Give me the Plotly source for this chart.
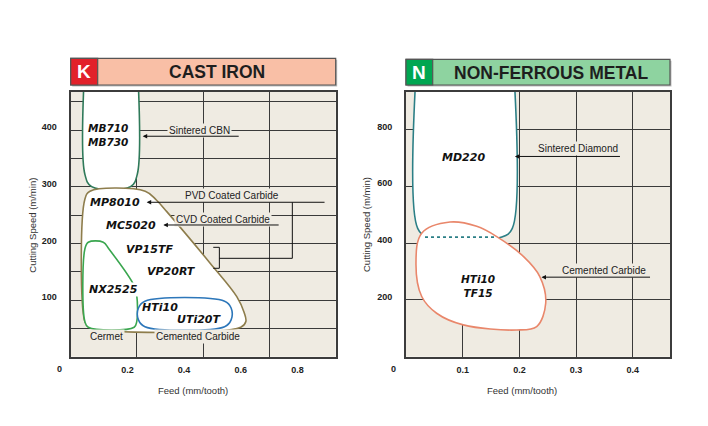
import plotly.graph_objects as go

# page body has an 8px default margin; the figure is drawn inside it
OFF = 8
W, H = 708 - OFF, 426 - OFF


def px(x):
    return (x - OFF) / W


def py(y):
    return 1 - (y - OFF) / H


# ---------------- data: left panel (K, cast iron) ----------------
K_X_RANGE = [0, 0.935]
K_Y_RANGE = [0, 467.6]
K_X_TICKS = [0.2, 0.4, 0.6, 0.8]
K_X_LABELS = ["0.2", "0.4", "0.6", "0.8"]
K_Y_TICKS = [100, 200, 300, 400]
K_Y_LABELS = ["100", "200", "300", "400"]
K_GRID_COLUMNS = 4

CBN_X = [0.05, 0.05, 0.074, 0.211, 0.235, 0.235]
CBN_Y = [520, 322, 300, 300, 322, 520]

CARBIDE_X = [0.05, 0.05, 0.068, 0.263, 0.303, 0.339, 0.492, 0.586, 0.612, 0.618, 0.600, 0.065, 0.05]
CARBIDE_Y = [62, 278, 292, 292, 276, 256, 165, 106, 78, 62, 52, 52, 62]

CERMET_X = [0.05, 0.05, 0.062, 0.115, 0.135, 0.222, 0.233, 0.233, 0.224, 0.062, 0.05]
CERMET_Y = [62, 190, 202, 202, 190, 127, 108, 62, 52, 52, 62]

HTI_X = [0.239, 0.239, 0.262, 0.543, 0.566, 0.566, 0.543, 0.262, 0.239]
HTI_Y = [65, 86, 98, 98, 86, 65, 53, 53, 65]

K_GRADES = ["MB710<br>MB730", "MP8010", "MC5020", "VP15TF", "VP20RT", "NX2525", "HTi10", "UTi20T"]
K_GRADE_X = [0.132, 0.156, 0.213, 0.277, 0.356, 0.150, 0.316, 0.456]
K_GRADE_Y = [390.5, 272, 232, 190, 150, 119, 87, 66]

K_LABELS = ["Sintered CBN", "PVD Coated Carbide", "CVD Coated Carbide", "Cermet", "Cemented Carbide"]
K_LABEL_X = [0.456, 0.568, 0.539, 0.127, 0.45]
K_LABEL_Y = [400, 284, 242.5, 36.5, 36.5]

K_ARROW_HEAD_X = [0.254, 0.268, 0.327]
K_ARROW_TAIL_X = [0.598, 0.901, 0.739]
K_ARROW_Y = [389, 272.5, 232.4]

PVD_LINK_X = [0.782, 0.782, 0.5245]
PVD_LINK_Y = [272.5, 173.6, 173.6]
BRACKET_X = [0.503, 0.5245, 0.5245, 0.503]
BRACKET_Y = [193, 193, 156, 156]

# ---------------- data: right panel (N, non-ferrous) ----------------
N_X_RANGE = [0, 0.4656]
N_Y_RANGE = [0, 933]
N_X_TICKS = [0.1, 0.2, 0.3, 0.4]
N_X_LABELS = ["0.1", "0.2", "0.3", "0.4"]
N_Y_TICKS = [200, 400, 600, 800]
N_Y_LABELS = ["200", "400", "600", "800"]

DIAMOND_X = [0.0206, 0.0206, 0.039, 0.169, 0.1875, 0.1875]
DIAMOND_Y = [1100, 452, 421, 421, 452, 1100]
DIAMOND_EDGE_X = [0.0335, 0.157]
DIAMOND_EDGE_Y = [421, 421]

BLOB_X = [0.101, 0.054, 0.0277, 0.0176, 0.0277, 0.0776, 0.1247, 0.160, 0.207, 0.236, 0.2464, 0.2305, 0.195, 0.101]
BLOB_Y = [112, 153, 212, 329, 435, 474, 459, 423, 353, 282, 188, 106, 94, 112]

N_GRADES = ["MD220", "HTi10<br>TF15"]
N_GRADE_X = [0.101, 0.1275]
N_GRADE_Y = [703, 250.5]

N_LABELS = ["Sintered Diamond", "Cemented Carbide"]
N_LABEL_X = [0.304, 0.349]
N_LABEL_Y = [733, 302]

N_ARROW_HEAD_X = [0.192, 0.239]
N_ARROW_TAIL_X = [0.380, 0.433]
N_ARROW_Y = [705, 280]

# ---------------- styling ----------------
PLOT_BG = "#efebe2"
GRID = "#3a3a3a"
FRAME = "#3c3c3c"
TICKFONT = dict(family="Liberation Sans, Arial", size=9, color="#222", weight="bold")

K_DOM_X = [px(70.7), px(335.7)]
N_DOM_X = [px(406), px(670)]
DOM_Y = [py(356.7), py(91.7)]

fig = go.Figure()


def region(x, y, color, xa, ya, width=1.6):
    fig.add_trace(go.Scatter(
        x=x, y=y, xaxis=xa, yaxis=ya, mode="lines", fill="toself",
        fillcolor="white", line=dict(color=color, width=width, shape="spline", smoothing=1.0),
        hoverinfo="skip", showlegend=False))


def plain_line(x, y, xa, ya, color="#111", width=1, dash="solid"):
    fig.add_trace(go.Scatter(
        x=x, y=y, xaxis=xa, yaxis=ya, mode="lines",
        line=dict(color=color, width=width, dash=dash),
        hoverinfo="skip", showlegend=False))


# left regions
region(CBN_X, CBN_Y, "#2f7a5a", "x", "y")
region(CARBIDE_X, CARBIDE_Y, "#8e7d4c", "x", "y")
region(CERMET_X, CERMET_Y, "#3aa64f", "x", "y")
region(HTI_X, HTI_Y, "#2d77ba", "x", "y")
plain_line(PVD_LINK_X, PVD_LINK_Y, "x", "y")
plain_line(BRACKET_X, BRACKET_Y, "x", "y")
# grid-only overlay axis for the left panel columns
fig.add_trace(go.Scatter(x=[0], y=[0], xaxis="x3", yaxis="y", mode="markers",
                         marker=dict(opacity=0), hoverinfo="skip", showlegend=False))

# right regions
region(DIAMOND_X, DIAMOND_Y, "#2b7f86", "x2", "y2")
region(BLOB_X, BLOB_Y, "#e9876b", "x2", "y2")
plain_line(DIAMOND_EDGE_X, DIAMOND_EDGE_Y, "x2", "y2", color="#2b7f86", width=1.6, dash="dot")

axis_common = dict(showline=True, mirror=True, linecolor=FRAME, linewidth=2,
                   zeroline=False, tickfont=TICKFONT, ticks="", fixedrange=True)

fig.update_layout(
    width=W, height=H, margin=dict(l=0, r=0, t=0, b=0),
    paper_bgcolor="white", plot_bgcolor=PLOT_BG, showlegend=False,
    xaxis=dict(domain=K_DOM_X, range=K_X_RANGE, anchor="y", tickvals=K_X_TICKS,
               ticktext=K_X_LABELS, showgrid=False, ticklabelstandoff=3, **axis_common),
    yaxis=dict(domain=DOM_Y, range=K_Y_RANGE, anchor="x", tickvals=K_Y_TICKS,
               ticktext=K_Y_LABELS, showgrid=True, gridcolor=GRID, gridwidth=1,
               minor=dict(dtick=50, tick0=0, showgrid=True, gridcolor=GRID, gridwidth=1),
               ticklabelstandoff=10, ticklabelshift=-3, **axis_common),
    xaxis3=dict(overlaying="x", range=[0, K_GRID_COLUMNS], dtick=1, showgrid=True,
                gridcolor=GRID, gridwidth=1, showticklabels=False, showline=False,
                zeroline=False, ticks="", anchor="y", fixedrange=True),
    xaxis2=dict(domain=N_DOM_X, range=N_X_RANGE, anchor="y2", tickvals=N_X_TICKS,
                ticktext=N_X_LABELS, showgrid=True, gridcolor=GRID, gridwidth=1,
                ticklabelstandoff=3, **axis_common),
    yaxis2=dict(domain=DOM_Y, range=N_Y_RANGE, anchor="x2", tickvals=N_Y_TICKS,
                ticktext=N_Y_LABELS, showgrid=True, gridcolor=GRID, gridwidth=1,
                ticklabelstandoff=10, ticklabelshift=-3, **axis_common),
)

ann = []
GRADE_FONT = dict(family="DejaVu Sans", size=11, color="#111")
PAIR_FONT = dict(family="DejaVu Sans", size=10.5, color="#111")
LABEL_FONT = dict(family="Liberation Sans, Arial", size=10, color="#222")
CENTER = dict(xanchor="center", yanchor="middle")

for t, x, y in zip(K_GRADES, K_GRADE_X, K_GRADE_Y):
    ann.append(dict(text=f"<b><i>{t}</i></b>", x=x, y=y, xref="x", yref="y",
                    showarrow=False, font=PAIR_FONT if "<br>" in t else GRADE_FONT,
                    bgcolor="white" if t == "NX2525" else None, borderpad=0, **CENTER))
for t, x, y in zip(K_LABELS, K_LABEL_X, K_LABEL_Y):
    ann.append(dict(text=t, x=x, y=y, xref="x", yref="y", showarrow=False,
                    font=LABEL_FONT, bgcolor=PLOT_BG, borderpad=1, **CENTER))
for hx, tx, y in zip(K_ARROW_HEAD_X, K_ARROW_TAIL_X, K_ARROW_Y):
    ann.append(dict(text="", x=hx, y=y, ax=tx, ay=y, xref="x", yref="y", axref="x", ayref="y",
                    showarrow=True, arrowhead=2, arrowsize=0.9, arrowwidth=1, arrowcolor="#111",
                    standoff=0, startstandoff=0))

for t, x, y in zip(N_GRADES, N_GRADE_X, N_GRADE_Y):
    ann.append(dict(text=f"<b><i>{t}</i></b>", x=x, y=y, xref="x2", yref="y2",
                    showarrow=False, font=PAIR_FONT if "<br>" in t else GRADE_FONT, **CENTER))
for t, x, y in zip(N_LABELS, N_LABEL_X, N_LABEL_Y):
    ann.append(dict(text=t, x=x, y=y, xref="x2", yref="y2", showarrow=False,
                    font=LABEL_FONT, bgcolor=PLOT_BG, borderpad=1, **CENTER))
for hx, tx, y in zip(N_ARROW_HEAD_X, N_ARROW_TAIL_X, N_ARROW_Y):
    ann.append(dict(text="", x=hx, y=y, ax=tx, ay=y, xref="x2", yref="y2", axref="x2", ayref="y2",
                    showarrow=True, arrowhead=2, arrowsize=0.9, arrowwidth=1, arrowcolor="#111",
                    standoff=0, startstandoff=0))

# origin labels and axis titles
TITLE_FONT = dict(family="Liberation Sans, Arial", size=9.5, color="#333")
for x0 in (59, 394):
    ann.append(dict(text="0", x=px(x0), y=py(369), xref="paper", yref="paper",
                    showarrow=False, font=TICKFONT, **CENTER))
for xc in (31.7, 366):
    ann.append(dict(text="Cutting Speed (m/min)", x=px(xc), y=py(225), xref="paper", yref="paper",
                    showarrow=False, textangle=-90, font=TITLE_FONT, **CENTER))
for xc in (193, 522):
    ann.append(dict(text="Feed (mm/tooth)", x=px(xc), y=py(390), xref="paper", yref="paper",
                    showarrow=False, font=TITLE_FONT, **CENTER))

# panel header bars
shapes = []
headers = [
    (70.7, 335.7, 58.3, 85, 97.7, "#e2212a", "#f9bfa6", "K", "CAST IRON"),
    (406, 670, 59.3, 85, 432.7, "#00a651", "#8ed3a0", "N", "NON-FERROUS METAL"),
]
for x0, x1, y0, y1, xs, sq, bar, letter, title in headers:
    shapes.append(dict(type="rect", xref="paper", yref="paper", x0=px(x0 + 1.5), x1=px(x1 + 1.5),
                       y0=py(y1 + 1.5), y1=py(y0 + 1.5), fillcolor="#bdbdbd", line=dict(width=0),
                       layer="below"))
    shapes.append(dict(type="rect", xref="paper", yref="paper", x0=px(x0), x1=px(x1),
                       y0=py(y1), y1=py(y0), fillcolor=bar, line=dict(color="#555", width=1.2)))
    shapes.append(dict(type="rect", xref="paper", yref="paper", x0=px(x0), x1=px(xs),
                       y0=py(y1), y1=py(y0), fillcolor=sq, line=dict(color="#555", width=1.2)))
    ann.append(dict(text=f"<b>{letter}</b>", x=px((x0 + xs) / 2), y=py((y0 + y1) / 2),
                    xref="paper", yref="paper", showarrow=False,
                    font=dict(family="Liberation Sans, Arial", size=19, color="white"), **CENTER))
    ann.append(dict(text=f"<b>{title}</b>", x=px((xs + x1) / 2), y=py((y0 + y1) / 2 + 0.5),
                    xref="paper", yref="paper", showarrow=False,
                    font=dict(family="Liberation Sans, Arial", size=17.5, color="#1e1e1e"), **CENTER))

fig.update_layout(annotations=ann, shapes=shapes)
fig.write_html("out.html")
